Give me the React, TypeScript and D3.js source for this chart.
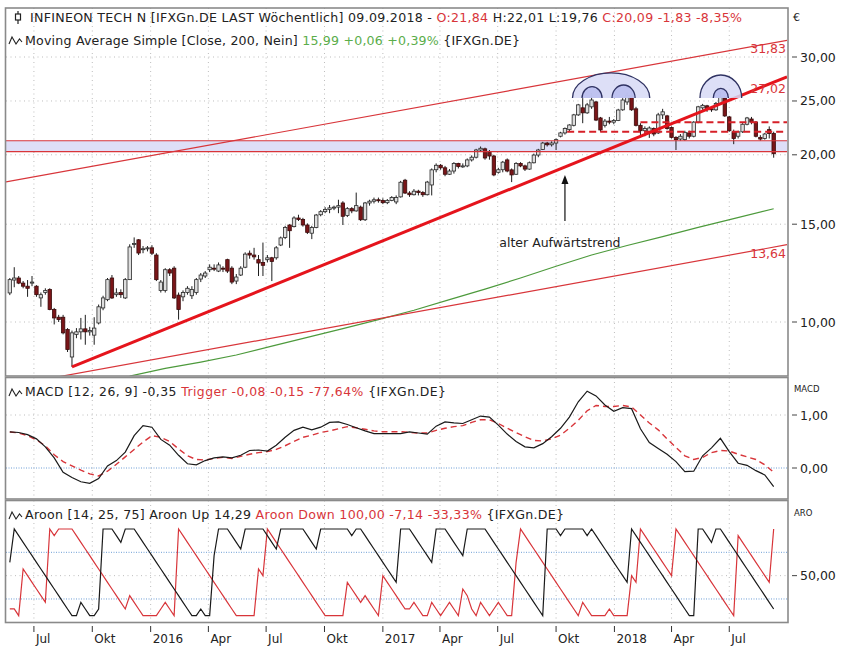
import React from "react";
import * as d3 from "d3";

// ---------- DATA ----------
const START = Date.UTC(2015, 4, 24); // first weekly bar
const WEEK = 7 * 864e5;

// weekly candles [open, high, low, close]
const weeklyOHLC: [number, number, number, number][] = [
  [11.28, 12.0, 11.18, 11.92], [11.9, 12.55, 11.55, 12.0], [12.0, 12.1, 11.7, 11.75], [11.75, 11.85, 11.5, 11.6],
  [11.6, 11.9, 11.1, 11.5], [11.75, 12.1, 11.6, 11.8], [11.6, 11.65, 11.1, 11.2], [11.05, 11.3, 10.65, 11.2],
  [11.3, 11.5, 11.2, 11.4], [11.44, 11.5, 10.5, 10.53], [10.53, 10.6, 9.9, 10.17], [10.2, 10.3, 10.0, 10.1],
  [10.2, 10.3, 9.5, 9.56], [9.69, 9.75, 8.83, 8.92], [8.65, 9.65, 8.3, 9.56], [9.5, 9.75, 9.35, 9.6],
  [9.6, 10.17, 9.3, 9.72], [9.72, 10.3, 9.1, 9.6], [9.6, 9.8, 9.45, 9.65], [9.47, 10.2, 9.1, 9.75],
  [9.96, 10.75, 9.9, 10.65], [10.6, 11.15, 10.5, 11.05], [10.97, 12.0, 10.9, 11.92], [12.0, 12.15, 11.0, 11.05],
  [11.2, 11.5, 11.1, 11.28], [11.3, 11.45, 11.05, 11.2], [11.05, 12.0, 11.0, 11.92], [11.92, 13.8, 11.9, 13.65],
  [13.8, 14.2, 13.6, 13.85], [14.06, 14.1, 13.2, 13.31], [13.5, 13.7, 13.3, 13.55], [13.55, 13.7, 13.4, 13.6],
  [13.6, 13.75, 13.2, 13.3], [13.2, 13.3, 11.85, 11.92], [11.4, 11.9, 11.3, 11.8], [11.4, 12.5, 11.3, 12.42],
  [12.42, 12.5, 12.1, 12.25], [12.5, 12.6, 11.0, 11.05], [11.18, 11.3, 10.1, 10.53], [11.1, 11.4, 10.9, 11.3],
  [11.3, 11.6, 11.2, 11.5], [11.15, 11.6, 11.0, 11.44], [11.3, 12.0, 11.2, 11.92], [11.95, 12.25, 11.8, 12.15],
  [12.1, 12.35, 12.0, 12.25], [12.42, 12.7, 12.3, 12.55], [12.5, 12.7, 12.35, 12.45], [12.35, 12.8, 12.3, 12.67],
  [12.5, 12.6, 12.3, 12.45], [12.95, 13.0, 12.25, 12.35], [12.5, 12.6, 11.7, 11.8], [11.85, 12.2, 11.7, 12.05],
  [12.15, 12.6, 12.1, 12.5], [12.55, 13.35, 12.5, 13.25], [13.3, 13.45, 13.0, 13.2], [13.2, 13.6, 12.95, 13.1],
  [12.95, 13.2, 12.1, 12.77], [12.8, 13.9, 12.1, 12.65], [12.95, 13.2, 12.8, 13.05], [13.05, 13.1, 11.85, 12.85],
  [13.05, 13.7, 12.95, 13.6], [13.76, 14.25, 13.7, 14.17], [14.2, 14.9, 14.1, 14.8], [14.95, 15.0, 13.6, 14.6],
  [14.85, 15.5, 14.8, 15.39], [15.39, 15.6, 15.2, 15.3], [15.3, 15.4, 14.85, 14.95], [14.95, 15.05, 14.4, 14.5],
  [14.45, 14.9, 14.1, 14.8], [14.8, 15.65, 14.75, 15.58], [15.6, 15.9, 15.5, 15.8], [15.8, 16.1, 15.7, 15.95],
  [15.95, 16.24, 15.7, 16.05], [16.05, 16.2, 15.9, 16.1], [16.1, 16.6, 15.7, 16.2], [16.38, 16.5, 14.95, 15.5],
  [15.55, 16.1, 15.45, 16.0], [16.0, 16.1, 15.7, 15.85], [15.85, 17.1, 15.8, 16.2], [16.1, 16.2, 15.2, 15.28],
  [15.28, 16.45, 15.2, 16.38], [16.38, 16.6, 16.2, 16.5], [16.5, 16.75, 16.35, 16.6], [16.6, 16.75, 16.4, 16.55],
  [16.55, 16.7, 16.3, 16.4], [16.4, 16.65, 16.3, 16.55], [16.55, 16.85, 16.5, 16.75], [16.45, 16.9, 16.3, 16.75],
  [16.8, 17.95, 16.75, 17.85], [18.0, 18.1, 17.0, 17.07], [17.07, 17.2, 16.8, 16.95], [16.95, 17.35, 16.9, 17.2],
  [17.2, 17.3, 16.9, 17.1], [17.1, 17.2, 16.8, 16.95], [16.95, 17.95, 16.9, 17.86], [17.65, 18.9, 16.9, 18.79],
  [18.8, 19.3, 18.6, 19.15], [19.15, 19.25, 18.8, 18.95], [18.95, 19.1, 18.3, 18.45], [18.45, 18.85, 18.4, 18.7],
  [18.7, 19.4, 18.5, 19.3], [19.3, 19.35, 18.9, 19.05], [19.05, 19.3, 18.95, 19.1], [19.1, 19.7, 19.0, 19.58],
  [19.58, 19.95, 19.45, 19.8], [19.8, 20.5, 19.7, 20.4], [20.4, 20.7, 20.3, 20.55], [20.5, 20.6, 19.6, 19.74],
  [20.2, 20.4, 19.6, 19.9], [19.9, 20.0, 18.3, 18.4], [18.6, 18.95, 18.5, 18.8], [18.8, 19.5, 18.6, 19.4],
  [19.58, 19.7, 18.6, 18.7], [18.79, 18.9, 17.86, 18.4], [18.45, 19.4, 18.4, 19.3], [19.3, 19.4, 19.0, 19.1],
  [19.1, 19.2, 18.7, 18.85], [18.85, 19.45, 18.8, 19.35], [19.35, 20.1, 19.3, 19.98], [19.98, 20.5, 19.8, 20.4],
  [20.45, 21.1, 20.4, 21.0], [21.0, 21.1, 20.7, 20.85], [20.85, 21.15, 20.7, 21.0], [21.0, 21.4, 20.4, 21.3],
  [21.6, 22.0, 21.5, 21.9], [21.9, 22.4, 21.75, 22.3], [22.2, 22.7, 22.0, 22.63], [22.6, 23.7, 22.5, 23.6],
  [23.6, 24.7, 23.5, 24.6], [24.3, 25.3, 22.8, 23.8], [23.8, 24.8, 23.7, 24.6], [24.4, 25.84, 24.2, 25.1],
  [24.9, 25.0, 23.0, 23.1], [23.3, 23.4, 22.0, 22.17], [22.6, 23.2, 22.4, 23.0], [23.0, 23.4, 22.7, 22.9],
  [22.9, 23.2, 22.7, 23.05], [23.05, 24.2, 23.0, 24.08], [24.1, 25.3, 24.0, 25.1], [24.9, 25.9, 24.6, 25.6],
  [25.6, 26.0, 24.0, 24.1], [24.2, 24.4, 22.5, 22.6], [22.6, 22.8, 21.5, 22.1], [22.1, 22.5, 21.6, 22.3],
  [21.95, 22.5, 21.45, 22.35], [22.3, 22.4, 21.6, 21.8], [21.9, 23.8, 21.8, 23.6], [23.6, 24.2, 23.2, 23.9],
  [23.5, 23.6, 22.2, 22.3], [22.4, 22.5, 21.4, 21.5], [21.5, 21.6, 20.4, 21.3], [21.35, 21.8, 21.2, 21.6],
  [21.3, 22.1, 21.2, 21.95], [21.9, 22.1, 21.4, 21.6], [21.6, 23.0, 21.5, 22.9], [22.9, 24.5, 22.8, 24.4],
  [24.3, 24.7, 24.1, 24.55], [24.5, 24.6, 23.9, 24.2], [24.2, 24.35, 23.9, 24.1], [24.1, 24.9, 24.0, 24.75],
  [24.75, 25.95, 24.7, 25.4], [25.3, 25.5, 23.4, 23.5], [23.4, 23.5, 22.0, 22.1], [22.0, 22.2, 20.9, 21.4],
  [21.6, 22.1, 21.4, 22.0], [22.0, 22.8, 21.9, 22.7], [22.7, 23.4, 22.6, 23.3], [23.2, 23.4, 22.7, 22.9],
  [22.9, 23.0, 21.5, 21.6], [21.5, 21.7, 21.2, 21.35], [21.4, 21.9, 21.3, 21.8], [22.2, 22.5, 21.4, 21.84],
  [21.84, 22.01, 19.76, 20.09],
];

// Moving average (200) – sampled points (week index, value)
const smaWeeks = [27, 35, 43, 51, 59, 67, 75, 83, 91, 99, 107, 115, 123, 131, 139, 147, 155, 163, 172];
const smaValues = [7.99, 8.25, 8.47, 8.72, 9.05, 9.38, 9.73, 10.1, 10.5, 10.97, 11.46, 12.0, 12.6, 13.2, 13.73, 14.25, 14.8, 15.35, 15.99];

// MACD and trigger, every second week starting at week 0
const macdStepWeeks = 2;
const macdValues = [0.68, 0.67, 0.63, 0.55, 0.4, 0.19, -0.08, -0.18, -0.26, -0.29, -0.2, 0.04, 0.14, 0.3, 0.61, 0.8, 0.77, 0.54, 0.43, 0.24, 0.08, 0.06, 0.14, 0.19, 0.21, 0.19, 0.24, 0.33, 0.34, 0.32, 0.43, 0.58, 0.71, 0.77, 0.72, 0.77, 0.86, 0.87, 0.82, 0.76, 0.7, 0.65, 0.65, 0.65, 0.65, 0.68, 0.66, 0.64, 0.79, 0.87, 0.85, 0.84, 0.91, 0.98, 0.96, 0.81, 0.64, 0.5, 0.4, 0.38, 0.46, 0.59, 0.75, 0.96, 1.25, 1.45, 1.36, 1.19, 1.07, 1.14, 1.12, 0.74, 0.48, 0.37, 0.26, 0.12, -0.07, -0.06, 0.23, 0.38, 0.56, 0.31, 0.09, 0.05, -0.05, -0.13, -0.35];
const triggerValues = [0.68, 0.66, 0.61, 0.53, 0.42, 0.25, 0.12, 0.04, -0.04, -0.11, -0.15, -0.06, 0.07, 0.21, 0.35, 0.49, 0.61, 0.58, 0.5, 0.36, 0.23, 0.16, 0.15, 0.18, 0.2, 0.18, 0.22, 0.26, 0.29, 0.31, 0.35, 0.42, 0.5, 0.58, 0.62, 0.67, 0.7, 0.74, 0.78, 0.76, 0.73, 0.7, 0.685, 0.685, 0.685, 0.67, 0.66, 0.66, 0.71, 0.75, 0.78, 0.8, 0.86, 0.91, 0.91, 0.84, 0.75, 0.67, 0.59, 0.52, 0.51, 0.55, 0.62, 0.75, 0.9, 1.08, 1.18, 1.16, 1.16, 1.18, 1.15, 1.0, 0.85, 0.72, 0.55, 0.39, 0.23, 0.16, 0.2, 0.29, 0.33, 0.32, 0.26, 0.21, 0.16, 0.06, -0.08];

// Aroon (weekly)
const aroonUp = [64.29, 100, 92.86, 85.71, 78.57, 71.43, 64.29, 57.14, 50, 42.86, 35.71, 28.57, 21.43, 14.29, 7.14, 7.14, 21.43, 14.29, 7.14, 7.14, 14.29, 100, 100, 100, 92.86, 85.71, 100, 100, 100, 92.86, 85.71, 78.57, 71.43, 64.29, 57.14, 50, 42.86, 35.71, 28.57, 21.43, 14.29, 7.14, 7.14, 14.29, 7.14, 7.14, 71.43, 100, 100, 100, 92.86, 85.71, 78.57, 100, 100, 100, 100, 100, 92.86, 85.71, 78.57, 100, 100, 100, 100, 100, 100, 92.86, 85.71, 78.57, 100, 100, 100, 100, 100, 100, 100, 92.86, 100, 100, 92.86, 85.71, 78.57, 71.43, 64.29, 57.14, 50, 42.86, 100, 100, 100, 92.86, 85.71, 78.57, 71.43, 64.29, 100, 100, 100, 92.86, 85.71, 78.57, 71.43, 100, 100, 100, 100, 100, 92.86, 85.71, 78.57, 71.43, 64.29, 57.14, 50, 42.86, 35.71, 28.57, 21.43, 14.29, 7.14, 100, 100, 100, 92.86, 100, 100, 100, 100, 100, 92.86, 100, 92.86, 85.71, 78.57, 71.43, 64.29, 57.14, 50, 42.86, 100, 92.86, 85.71, 78.57, 71.43, 64.29, 57.14, 50, 42.86, 35.71, 28.57, 21.43, 14.29, 7.14, 7.14, 100, 100, 92.86, 85.71, 100, 100, 92.86, 85.71, 78.57, 71.43, 64.29, 57.14, 50, 42.86, 35.71, 28.57, 21.43, 14.29];
const aroonDown = [14.29, 14.29, 7.14, 57.14, 50, 42.86, 35.71, 28.57, 21.43, 100, 92.86, 100, 100, 100, 100, 92.86, 85.71, 78.57, 71.43, 64.29, 57.14, 50, 42.86, 35.71, 28.57, 21.43, 14.29, 28.57, 21.43, 14.29, 7.14, 7.14, 7.14, 7.14, 14.29, 21.43, 14.29, 7.14, 100, 92.86, 85.71, 78.57, 71.43, 64.29, 57.14, 50, 42.86, 35.71, 28.57, 21.43, 14.29, 7.14, 7.14, 7.14, 7.14, 7.14, 57.14, 50, 100, 92.86, 85.71, 78.57, 71.43, 64.29, 57.14, 50, 42.86, 35.71, 28.57, 21.43, 14.29, 7.14, 7.14, 7.14, 7.14, 7.14, 42.86, 35.71, 28.57, 21.43, 28.57, 21.43, 14.29, 7.14, 50, 42.86, 35.71, 28.57, 21.43, 14.29, 14.29, 21.43, 14.29, 7.14, 7.14, 21.43, 14.29, 7.14, 14.29, 21.43, 14.29, 7.14, 35.71, 28.57, 14.29, 7.14, 21.43, 14.29, 7.14, 14.29, 21.43, 14.29, 7.14, 7.14, 64.29, 100, 92.86, 85.71, 78.57, 71.43, 64.29, 57.14, 50, 42.86, 35.71, 28.57, 21.43, 14.29, 7.14, 21.43, 14.29, 7.14, 7.14, 7.14, 7.14, 14.29, 7.14, 7.14, 7.14, 7.14, 50, 42.86, 100, 92.86, 85.71, 78.57, 71.43, 64.29, 57.14, 50, 100, 92.86, 85.71, 78.57, 71.43, 64.29, 57.14, 50, 42.86, 35.71, 28.57, 21.43, 14.29, 7.14, 92.86, 85.71, 78.57, 71.43, 64.29, 57.14, 50, 42.86, 100];

// Drawn lines: (week, price) anchors
const channelTop = { w0: 0, p0: 17.92, w1: 172, p1: 31.83, label: "31,83" };
const channelBottom = { w0: 14, p0: 8.05, w1: 172, p1: 13.64, label: "13,64" };
const upTrend = { w0: 14, p0: 8.3, w1: 172, p1: 27.02, label: "27,02" };
const zoneBand = [20.26, 21.2];
const dashedLevels = [{ fromWeek: 125.5, price: 22.0 }, { fromWeek: 142, price: 22.88 }];
const arcs = [
  { week: 135.4, halfWeeks: 8.7, base: 25.3, top: 28.08, inner: false },
  { week: 131.1, halfWeeks: 2.25, base: 25.3, top: 26.53, inner: true },
  { week: 138.2, halfWeeks: 2.6, base: 25.3, top: 26.71, inner: true },
  { week: 160.1, halfWeeks: 4.7, base: 25.3, top: 27.84, inner: false },
  { week: 160.1, halfWeeks: 1.7, base: 25.3, top: 26.35, inner: true },
];
const arrowNote = { week: 125, fromPrice: 15.2, toPrice: 18.4, text: "alter Aufwärtstrend" };

const xTickLabels = ["Jul", "Okt", "2016", "Apr", "Jul", "Okt", "2017", "Apr", "Jul", "Okt", "2018", "Apr", "Jul"];
const priceTicks = [10, 15, 20, 25, 30];
const macdTicks = [0, 1];
const aroonTicks = [50];
const aroonLevels = [25, 75];

// ---------- CHART ----------
const FONT = "DejaVu Sans";
const RED = "#d8353a";
const GREEN = "#5aad4a";
const TXT = "#222";

const dateOf = (w: number) => new Date(START + w * WEEK);

export default function App() {
  const L = 6, R = 787;
  const main = { top: 8, bottom: 376 };
  const macdP = { top: 377.5, bottom: 499 };
  const aroP = { top: 500.5, bottom: 622.5 };

  const x = d3.scaleUtc().domain([new Date(Date.UTC(2015, 4, 18)), new Date(Date.UTC(2018, 8, 30))]).range([L, R]);
  const yP = d3.scaleLog().domain([10, 30]).range([322, 57]);
  const yM = d3.scaleLinear().domain([0, 1]).range([468, 415]);
  const yA = d3.scaleLinear().domain([0, 100]).range([622.3, 529]);
  const xw = (w: number) => x(dateOf(w));

  const locale = d3.formatLocale({ decimal: ",", thousands: ".", grouping: [3], currency: ["", "€"] });
  const f2 = locale.format(".2f");

  const xTicks = d3.utcMonth.range(new Date(Date.UTC(2015, 6, 1)), new Date(Date.UTC(2018, 7, 2)), 3);

  const extLine = (ln: { w0: number; p0: number; w1: number; p1: number }, fromX: number) => {
    const X0 = xw(ln.w0), Y0 = yP(ln.p0), X1 = xw(ln.w1), Y1 = yP(ln.p1);
    const m = (Y1 - Y0) / (X1 - X0);
    return { x1: fromX, y1: Y0 + m * (fromX - X0), x2: R, y2: Y0 + m * (R - X0) };
  };
  const cTop = extLine(channelTop, L);
  const cBot = extLine(channelBottom, L);
  const tr = extLine(upTrend, xw(upTrend.w0));

  const smaPath = d3.line<number>().x((_, i) => xw(smaWeeks[i])).y((v) => yP(v))(smaValues) || "";
  const macdPath = d3.line<number>().x((_, i) => xw(i * macdStepWeeks)).y((v) => yM(v))(macdValues) || "";
  const trigPath = d3.line<number>().x((_, i) => xw(i * macdStepWeeks)).y((v) => yM(v))(triggerValues) || "";
  const aUpPath = d3.line<number>().x((_, i) => xw(i)).y((v) => yA(v))(aroonUp) || "";
  const aDnPath = d3.line<number>().x((_, i) => xw(i)).y((v) => yA(v))(aroonDown) || "";

  const arcPath = (a: typeof arcs[number]) => {
    const cx = xw(a.week);
    const rx = xw(a.week + a.halfWeeks) - cx;
    const yb = yP(a.base), ry = yb - yP(a.top);
    return `M${cx - rx},${yb} A${rx},${ry} 0 0 1 ${cx + rx},${yb}`;
  };

  const dotted = { stroke: "#bdbdbd", strokeWidth: 1, strokeDasharray: "1,3.5" };
  const blueDot = { stroke: "#6f9fd6", strokeWidth: 1, strokeDasharray: "1,1.5" };

  const wave = (x0: number, yb: number) =>
    `M${x0},${yb} L${x0 + 3},${yb - 7} L${x0 + 7},${yb} L${x0 + 10.5},${yb - 5} L${x0 + 13},${yb - 2}`;

  return (
    <div style={{ position: "fixed", left: 0, top: 0, background: "#fff" }}>
      <svg width={850} height={653} viewBox="0 0 850 653" style={{ display: "block", fontFamily: FONT }}>
        <defs>
          <clipPath id="cMain"><rect x={L} y={main.top} width={R - L} height={main.bottom - main.top} /></clipPath>
          <clipPath id="cMacd"><rect x={L} y={macdP.top} width={R - L} height={macdP.bottom - macdP.top} /></clipPath>
          <clipPath id="cAro"><rect x={L} y={aroP.top} width={R - L} height={aroP.bottom - aroP.top} /></clipPath>
        </defs>
        <rect x={0} y={0} width={850} height={653} fill="#fff" />

        {/* grids */}
        {[main, macdP, aroP].map((p, k) =>
          xTicks.map((d, i) => (
            <line key={`vg${k}-${i}`} x1={x(d)} x2={x(d)} y1={p.top} y2={p.bottom} {...dotted} />
          ))
        )}
        {priceTicks.map((t) => (
          <line key={`hg${t}`} x1={L} x2={R} y1={yP(t)} y2={yP(t)} {...dotted} />
        ))}
        <line x1={L} x2={R} y1={yM(1)} y2={yM(1)} {...dotted} />
        <line x1={L} x2={R} y1={yM(0)} y2={yM(0)} {...blueDot} />
        <line x1={L} x2={R} y1={yA(50)} y2={yA(50)} {...dotted} />
        {aroonLevels.map((v) => (
          <line key={`al${v}`} x1={L} x2={R} y1={yA(v)} y2={yA(v)} {...blueDot} />
        ))}

        {/* main panel content */}
        <g clipPath="url(#cMain)">
          <rect x={L} y={yP(zoneBand[1])} width={R - L} height={yP(zoneBand[0]) - yP(zoneBand[1])} fill="#dedef7" />
          <path d={smaPath} fill="none" stroke="#4d9a3c" strokeWidth={1.2} />
          <line {...cTop} stroke={RED} strokeWidth={1.2} />
          <line {...cBot} stroke={RED} strokeWidth={1.2} />
          {weeklyOHLC.map(([o, h, l, c], i) => {
            const cx = xw(i);
            const up = c >= o;
            const t = yP(Math.max(o, c)), b = yP(Math.min(o, c));
            return (
              <g key={i}>
                <line x1={cx} x2={cx} y1={yP(h)} y2={yP(l)} stroke="#1e1e1e" strokeWidth={1} />
                <rect x={cx - 1.7} y={t} width={3.4} height={Math.max(1, b - t)}
                  fill={up ? "#dedede" : "#7a1518"} stroke={up ? "#2a2a2a" : "#3a0a0a"} strokeWidth={0.8} />
              </g>
            );
          })}
          {zoneBand.map((p) => (
            <line key={`zb${p}`} x1={L} x2={R} y1={yP(p)} y2={yP(p)} stroke={RED} strokeWidth={1.2} />
          ))}
          {dashedLevels.map((d, i) => (
            <line key={`dl${i}`} x1={xw(d.fromWeek)} x2={R} y1={yP(d.price)} y2={yP(d.price)}
              stroke="#d62028" strokeWidth={2} strokeDasharray="7,4" />
          ))}
          <line {...tr} stroke="#e5141c" strokeWidth={3} />
          {arcs.map((a, i) => (
            <path key={`arc${i}`} d={arcPath(a)} fill={a.inner ? "#b9bdee" : "#d7d9f6"} fillOpacity={0.85}
              stroke="#2f3262" strokeWidth={1.3} />
          ))}
          {(() => {
            const ax0 = xw(arrowNote.week);
            const yt = yP(arrowNote.toPrice), yb = yP(arrowNote.fromPrice);
            return (
              <g>
                <line x1={ax0} x2={ax0} y1={yb} y2={yt + 6} stroke="#111" strokeWidth={1.2} />
                <path d={`M${ax0},${yt} L${ax0 - 3.5},${yt + 9} L${ax0 + 3.5},${yt + 9} Z`} fill="#111" />
                <text x={ax0 - 5} y={yb + 26} textAnchor="middle" fontSize={12.5} fill={TXT}>{arrowNote.text}</text>
              </g>
            );
          })()}
          {[channelTop, upTrend, channelBottom].map((ln) => (
            <text key={ln.label} x={R - 1} y={yP(ln.p1) + 10.5} textAnchor="end" fontSize={12.5} fill={RED}>{ln.label}</text>
          ))}
        </g>

        {/* MACD */}
        <g clipPath="url(#cMacd)">
          <path d={trigPath} fill="none" stroke={RED} strokeWidth={1.4} strokeDasharray="6,4" />
          <path d={macdPath} fill="none" stroke="#1a1a1a" strokeWidth={1.2} />
        </g>

        {/* Aroon */}
        <g clipPath="url(#cAro)">
          <path d={aDnPath} fill="none" stroke={RED} strokeWidth={1.2} />
          <path d={aUpPath} fill="none" stroke="#1a1a1a" strokeWidth={1.2} />
        </g>

        {/* panel frames */}
        {[main, macdP, aroP].map((p, k) => (
          <rect key={`fr${k}`} x={5.5} y={p.top} width={R + 1 - 5.5} height={p.bottom - p.top} fill="none" stroke="#8a8a8a" strokeWidth={1.6} />
        ))}

        {/* right axes */}
        {priceTicks.map((t) => (
          <g key={`pt${t}`}>
            <line x1={792} x2={797} y1={yP(t)} y2={yP(t)} stroke="#444" />
            <text x={800} y={yP(t)} dy="0.36em" fontSize={12.5} fill={TXT}>{f2(t)}</text>
          </g>
        ))}
        {macdTicks.map((t) => (
          <g key={`mt${t}`}>
            <line x1={792} x2={797} y1={yM(t)} y2={yM(t)} stroke="#444" />
            <text x={800} y={yM(t)} dy="0.36em" fontSize={12.5} fill={TXT}>{f2(t)}</text>
          </g>
        ))}
        {aroonTicks.map((t) => (
          <g key={`at${t}`}>
            <line x1={792} x2={797} y1={yA(t)} y2={yA(t)} stroke="#444" />
            <text x={800} y={yA(t)} dy="0.36em" fontSize={12.5} fill={TXT}>{f2(t)}</text>
          </g>
        ))}
        <text x={793} y={21} fontSize={11} fill={TXT}>€</text>
        <text x={794} y={macdP.top + 14} fontSize={8.5} fill={TXT}>MACD</text>
        <text x={794} y={aroP.top + 15} fontSize={8.5} fill={TXT}>ARO</text>

        {/* x axis */}
        {xTicks.map((d, i) => (
          <g key={`xt${i}`}>
            <line x1={x(d)} x2={x(d)} y1={626} y2={632} stroke="#333" />
            <text x={x(d) + 2} y={643} fontSize={12} fill={TXT}>{xTickLabels[i]}</text>
          </g>
        ))}

        {/* headers */}
        <g>
          <line x1={18} x2={18} y1={11} y2={24} stroke="#222" strokeWidth={1.2} />
          <rect x={15.5} y={14} width={5} height={6} fill="#fff" stroke="#222" strokeWidth={1.2} />
          <text x={30} y={22} fontSize={12.6} fill={TXT} textLength={712} lengthAdjust="spacing">
            <tspan>INFINEON TECH N [IFXGn.DE LAST Wöchentlich] 09.09.2018 - </tspan>
            <tspan fill={RED}>O:21,84 </tspan>
            <tspan>H:22,01 L:19,76 </tspan>
            <tspan fill={RED}>C:20,09 -1,83 -8,35%</tspan>
          </text>
          <path d={wave(9, 44)} fill="none" stroke="#222" strokeWidth={1.1} />
          <text x={25} y={44.5} fontSize={12.6} fill={TXT} textLength={495} lengthAdjust="spacing">
            <tspan>Moving Average Simple [Close, 200, Nein] </tspan>
            <tspan fill={GREEN}>15,99 +0,06 +0,39% </tspan>
            <tspan>{"{IFXGn.DE}"}</tspan>
          </text>
          <path d={wave(9, 396)} fill="none" stroke="#222" strokeWidth={1.1} />
          <text x={25} y={396} fontSize={12.4} fill={TXT} textLength={421} lengthAdjust="spacing">
            <tspan>MACD [12, 26, 9] -0,35 </tspan>
            <tspan fill={RED}>Trigger -0,08 -0,15 -77,64% </tspan>
            <tspan>{"{IFXGn.DE}"}</tspan>
          </text>
          <path d={wave(9, 519)} fill="none" stroke="#222" strokeWidth={1.1} />
          <text x={25} y={519} fontSize={12.6} fill={TXT} textLength={539} lengthAdjust="spacing">
            <tspan>Aroon [14, 25, 75] Aroon Up 14,29 </tspan>
            <tspan fill={RED}>Aroon Down 100,00 -7,14 -33,33% </tspan>
            <tspan>{"{IFXGn.DE}"}</tspan>
          </text>
        </g>
      </svg>
    </div>
  );
}
